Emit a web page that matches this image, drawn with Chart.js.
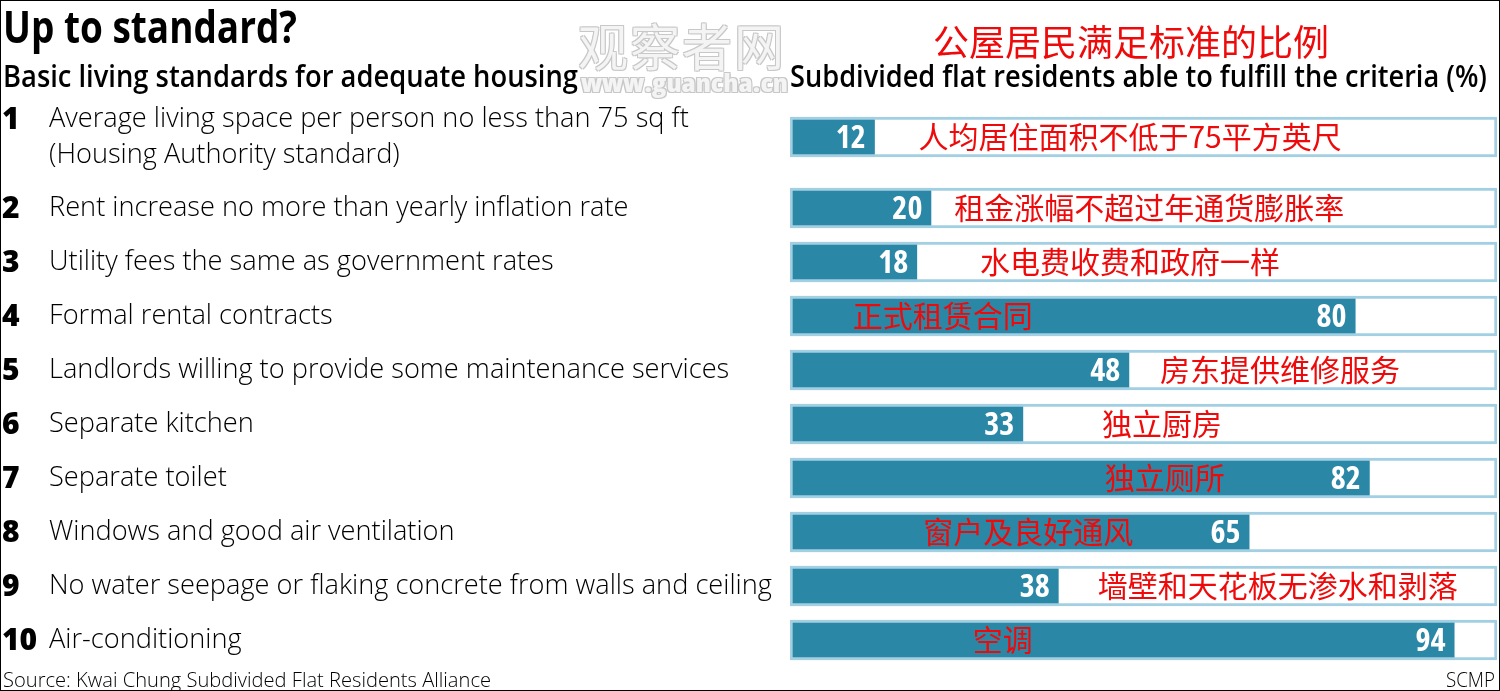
<!DOCTYPE html>
<html>
<head>
<meta charset="utf-8">
<script src="https://cdn.jsdelivr.net/npm/chart.js@4"></script>
<style>
  html, body { margin: 0; padding: 0; background: #fff; }
  #wrap { position: relative; width: 1500px; height: 691px; overflow: hidden; background: #fff; }
  #wrap canvas { position: absolute; left: 0; top: 0; }
  .t { position: absolute; white-space: nowrap; line-height: 1; transform-origin: 0 50%; }
  #title { left: 3px; top: -4px; font: 700 44px "Open Sans"; color: #000; }
  #subL { left: 3px; top: 54px; font: 600 31px "Open Sans"; color: #000; }
  #subR { left: 790px; top: 54px; font: 600 31px "Open Sans"; color: #000; }
  #cnTitle { left: 933px; top: 14px; font: 400 36px "Noto Sans CJK SC"; color: #ee0a0a; }
  #wm1 { left: 578px; top: 8px; font: 400 50px "Noto Sans CJK SC"; color: #f4f4f4; letter-spacing: 2px;
         text-shadow: 1px 1px 0 #c8c8c8, -1px -1px 0 #c8c8c8, 1px -1px 0 #c8c8c8, -1px 1px 0 #c8c8c8; }
  #wm2 { left: 581px; top: 65px; font: 800 25px "Open Sans"; font-stretch: 75%; color: #f4f4f4;
         text-shadow: 1px 1px 0 #c8c8c8, -1px -1px 0 #c8c8c8, 1px -1px 0 #c8c8c8, -1px 1px 0 #c8c8c8; }
  #src { left: 3px; top: 665px; font: 300 20.3px "Open Sans"; color: #000; }
  #scmp { left: 1446px; top: 665px; font: 300 21px "Open Sans"; color: #000; }
  #frame { position: absolute; left: 0; top: 0; width: 1500px; height: 691px; box-sizing: border-box; border: 1px solid #000; pointer-events: none; }
</style>
</head>
<body>
<div id="wrap">
  <canvas id="c" width="1500" height="691"></canvas>
  <div class="t" id="wm1">观察者网</div>
  <div class="t" id="wm2" data-w="207">www.guancha.cn</div>
  <div class="t" id="title" data-w="294">Up to standard?</div>
  <div class="t" id="subL" data-w="575">Basic living standards for adequate housing</div>
  <div class="t" id="subR" data-w="697">Subdivided flat residents able to fulfill the criteria (%)</div>
  <div class="t" id="cnTitle">公屋居民满足标准的比例</div>
  <div class="t" id="src" data-w="488">Source: Kwai Chung Subdivided Flat Residents Alliance</div>
  <div class="t" id="scmp" data-w="49">SCMP</div>
  <div id="frame"></div>
</div>
<script>
// ---- data ----
const categories = [
  ["Average living space per person no less than 75 sq ft", "(Housing Authority standard)"],
  "Rent increase no more than yearly inflation rate",
  "Utility fees the same as government rates",
  "Formal rental contracts",
  "Landlords willing to provide some maintenance services",
  "Separate kitchen",
  "Separate toilet",
  "Windows and good air ventilation",
  "No water seepage or flaking concrete from walls and ceiling",
  "Air-conditioning"
];
const rankLabels = ["1","2","3","4","5","6","7","8","9","10"];
const values = [12, 20, 18, 80, 48, 33, 82, 65, 38, 94];
const chineseLabels = [
  "人均居住面积不低于75平方英尺",
  "租金涨幅不超过年通货膨胀率",
  "水电费收费和政府一样",
  "正式租赁合同",
  "房东提供维修服务",
  "独立厨房",
  "独立厕所",
  "窗户及良好通风",
  "墙壁和天花板无渗水和剥落",
  "空调"
];
const scaleMax = 100;

// fit header text widths horizontally
document.querySelectorAll('.t[data-w]').forEach(el => {
  const w = el.getBoundingClientRect().width;
  const target = parseFloat(el.dataset.w);
  if (w > 0) el.style.transform = 'scaleX(' + (target / w) + ')';
});

// ---- layout (not data) ----
const cnLabelAt = [48.1, 50.8, 48.1, 21.6, 69.3, 52.6, 53.0, 33.7, 69.0, 30.1]; // x-anchor in scale units
const extraPerLine = 0.63;
const rowCenters = [];
let acc = 0;
categories.forEach(c => {
  const lines = Array.isArray(c) ? c.length : 1;
  const h = 1 + (lines - 1) * extraPerLine;
  rowCenters.push(acc + h / 2);
  acc += h;
});
const totalRows = acc;

const DARK = '#2b87a6';
const LIGHT = '#a3cfe2';

const labelPlugin = {
  id: 'rowLabels',
  afterDatasetsDraw(chart) {
    const ctx = chart.ctx;
    const xs = chart.scales.x, ys = chart.scales.y;
    ctx.save();
    ctx.textBaseline = 'middle';
    categories.forEach((cat, i) => {
      const lines = Array.isArray(cat) ? cat : [cat];
      const yc = ys.getPixelForValue(rowCenters[i]);
      const lh = 36;
      const y0 = yc - (lines.length - 1) * lh / 2;
      // rank number
      ctx.fillStyle = '#000';
      ctx.textAlign = 'left';
      ctx.fontStretch = 'normal';
      ctx.font = '800 30px "Open Sans"';
      ctx.fillText(rankLabels[i], 2, y0 + 1);
      // label lines
      ctx.font = '300 27.2px "Open Sans"';
      lines.forEach((ln, k) => ctx.fillText(ln, 49, y0 + k * lh));
      // value
      const xe = xs.getPixelForValue(values[i]);
      ctx.fillStyle = '#fff';
      ctx.textAlign = 'right';
      ctx.font = '700 32px "Open Sans"';
      ctx.fontStretch = 'semi-condensed';
      ctx.fillText(String(values[i]), xe - 9, yc + 2);
      ctx.fontStretch = 'normal';
      // chinese label
      ctx.fillStyle = '#ee0a0a';
      ctx.textAlign = 'center';
      ctx.font = '400 30px "Noto Sans CJK SC"';
      ctx.fillText(chineseLabels[i], xs.getPixelForValue(cnLabelAt[i]), yc);
    });
    ctx.restore();
  }
};

new Chart(document.getElementById('c'), {
  type: 'bar',
  data: {
    datasets: [
      {
        label: 'value',
        data: values.map((v, i) => ({ x: v, y: rowCenters[i] })),
        backgroundColor: DARK,
        borderColor: LIGHT,
        borderWidth: { top: 3, bottom: 3, left: 3, right: 0 },
        borderSkipped: false,
        grouped: false,
        barThickness: 40,
        order: 0
      },
      {
        label: 'track',
        data: values.map((v, i) => ({ x: scaleMax, y: rowCenters[i] })),
        backgroundColor: '#fff',
        borderColor: LIGHT,
        borderWidth: 3,
        borderSkipped: false,
        grouped: false,
        barThickness: 40,
        order: 1
      }
    ]
  },
  options: {
    indexAxis: 'y',
    responsive: false,
    animation: false,
    devicePixelRatio: 1,
    layout: { padding: { left: 790, right: 3, top: 93, bottom: 24 } },
    scales: {
      x: { type: 'linear', min: 0, max: scaleMax, display: false, offset: false },
      y: { type: 'linear', min: 0, max: totalRows, reverse: true, display: false, offset: false }
    },
    plugins: { legend: { display: false }, tooltip: { enabled: false } }
  },
  plugins: [labelPlugin]
});
</script>
</body>
</html>
